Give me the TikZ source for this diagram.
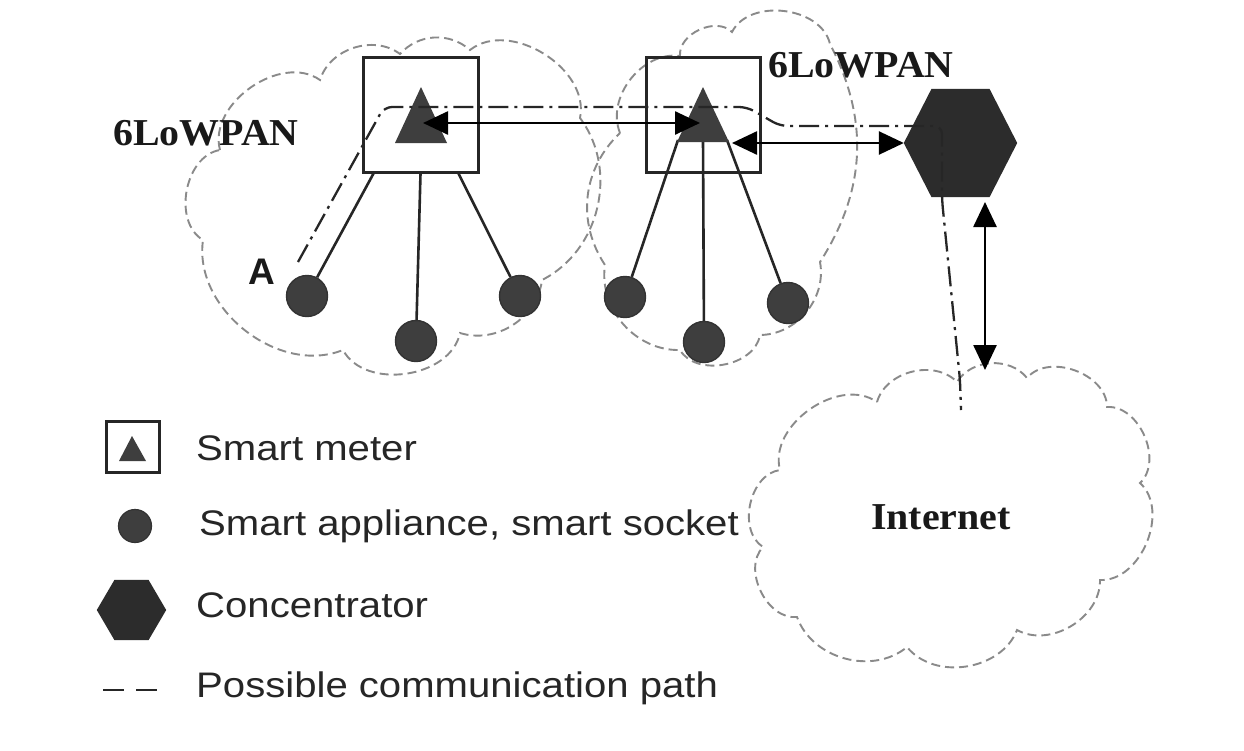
\documentclass[tikz,border=0pt]{standalone}
\usepackage{fontspec}
\setmainfont{Liberation Serif}
\setsansfont{Liberation Sans}
\usetikzlibrary{arrows.meta,calc}
\definecolor{cloudgray}{HTML}{8A8A8A}
\definecolor{devgray}{HTML}{3E3E3E}
\definecolor{hexgray}{HTML}{2C2C2C}
\begin{document}
\begin{tikzpicture}[x=1pt,y=-1pt,
  cloudline/.style={draw=cloudgray, dash pattern=on 9pt off 5pt, line width=1.9pt},
  meter/.style={draw=black!85, line width=3pt, minimum width=115pt, minimum height=115pt, inner sep=0pt},
  dev/.style={circle, fill=devgray, draw=black!80, line width=1.4pt, minimum size=41pt, inner sep=0pt},
  wire/.style={draw=black!85, line width=2.6pt},
  biarrow/.style={draw=black, line width=2.6pt, {Triangle[length=25pt,width=23pt]}-{Triangle[length=25pt,width=23pt]}},
  commpath/.style={draw=black!85, line width=2.3pt, dash pattern=on 20pt off 6pt on 3pt off 6pt},
  lbl/.style={font=\fontsize{38}{40}\selectfont\bfseries, text=black!90, inner sep=0pt, xscale=1.05},
  leg/.style={font=\sffamily\fontsize{35.5}{40}\selectfont, text=black!85, anchor=base west, inner sep=0pt, xscale=1.13}
]
\useasboundingbox (0,0) rectangle (1244,750);
\fill[white] (0,0) rectangle (1244,750);

% clouds
\draw[cloudline] (220,150) to[bend left=70] (320,80) to[bend left=55] (400,54) to[bend left=45] (470,50)
  to[bend left=70] (580,118) to[bend left=50] (542,280) to[bend left=50] (460,333)
  to[bend left=70] (343,350) to[bend left=60] (203,240) to[bend left=70] (220,150);
\draw[cloudline] (620,133) to[bend left=60] (680,56) to[bend left=70] (732,32) to[bend left=70] (830,44)
  to[bend left=30] (820,262) to[bend left=50] (760,335) to[bend left=70] (680,350)
  to[bend left=50] (605,265) to[bend left=40] (620,133);
\draw[cloudline] (877,402) to[bend left=60] (957,382) to[bend left=55] (1027,378) to[bend left=70] (1107,407)
  to[bend left=70] (1140,483) to[bend left=70] (1100,580) to[bend left=60] (1017,630)
  to[bend left=60] (907,647) to[bend left=55] (797,617) to[bend left=70] (763,547)
  to[bend left=70] (780,470) to[bend left=70] (877,402);

% meters
\node[meter] (m1) at (420.5,114.5) {};
\node[meter, minimum width=114pt] (m2) at (703,114.5) {};

% devices
\node[dev] (a1) at (307,296) {};
\node[dev] (a2) at (416,341) {};
\node[dev] (a3) at (520,296) {};
\node[dev] (b1) at (625,297) {};
\node[dev] (b2) at (704,342) {};
\node[dev] (b3) at (788,303) {};

% wires
\draw[wire] ([xshift=-47pt]m1.south) -- (a1);
\draw[wire] (m1.south) -- (a2);
\draw[wire] ([xshift=38pt]m1.south) -- (a3);
\coordinate (t2l) at (678,140);
\coordinate (t2m) at (703,140);
\coordinate (t2r) at (727,140);
\draw[wire] (t2l) -- (b1);
\draw[wire] (t2m) -- (b2);
\draw[wire] (t2r) -- (b3);

% triangles
\fill[devgray] (421,87) -- (447,143) -- (395,143) -- cycle;
\fill[devgray] (703,87) -- (729,142) -- (677,142) -- cycle;

% concentrator
\node[minimum width=113pt, minimum height=108pt, inner sep=0pt] (conc) at (960.5,143) {};
\fill[hexgray] (conc.west) -- ([xshift=-29pt]conc.north) -- ([xshift=29pt]conc.north) -- (conc.east)
  -- ([xshift=29pt]conc.south) -- ([xshift=-29pt]conc.south) -- cycle;

% communication path
\coordinate (pA) at (298,262);
\coordinate (pI) at (961,410);
\draw[commpath, rounded corners=8pt] (pA) -- (384,107) -- (747,107) -- (780,126) -- (942,126)
  -- (942,200) -- (960,380) -- (pI);

% arrows
\coordinate (m1tip) at (423,123);
\coordinate (m2tip) at (700,123);
\coordinate (m2r) at (732,143);
\coordinate (cv1) at (985,202);
\coordinate (cv2) at (985,370);
\draw[biarrow] (m1tip) -- (m2tip);
\draw[biarrow] (m2r) -- (conc.west);
\draw[biarrow] (cv1) -- (cv2);

% labels
\node[lbl] (lan1) at (206,133) {6LoWPAN};
\node[lbl] (lan2) at (861,65) {6LoWPAN};
\node[font=\sffamily\bfseries\fontsize{37}{40}\selectfont, text=black!90, inner sep=0pt] (lA) at (262,272) {A};
\node[lbl] (inet) at (941,517) {Internet};

% legend
\node[draw=black!85, line width=2.6pt, minimum width=53pt, minimum height=51pt, inner sep=0pt] (lgbox) at (133,447) {};
\fill[devgray] (132,436) -- (146,461) -- (119,461) -- cycle;
\node[circle, fill=devgray, draw=black!80, line width=1.2pt, minimum size=33pt, inner sep=0pt] (lgdev) at (135,526) {};
\node[minimum width=69pt, minimum height=60pt, inner sep=0pt] (lghex) at (131.5,610) {};
\fill[hexgray] (lghex.west) -- ([xshift=-17pt]lghex.north) -- ([xshift=17pt]lghex.north) -- (lghex.east)
  -- ([xshift=17pt]lghex.south) -- ([xshift=-17pt]lghex.south) -- cycle;
\coordinate (lgd1) at (103,690);
\coordinate (lgd2) at (160,690);
\draw[draw=black!85, line width=2.4pt, dash pattern=on 21pt off 12pt] (lgd1) -- (lgd2);

\node[leg] (t1) at (196,460) {Smart meter};
\node[leg] (t2) at (199,535) {Smart appliance, smart socket};
\node[leg] (t3) at (196,617) {Concentrator};
\node[leg] (t4) at (196,697) {Possible communication path};
\end{tikzpicture}
\end{document}
